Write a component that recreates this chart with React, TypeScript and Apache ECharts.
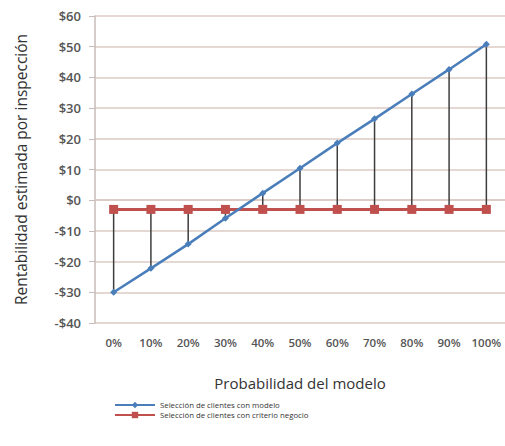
import React, { useEffect, useRef } from "react";
import * as echarts from "echarts";

const categories = ["0%", "10%", "20%", "30%", "40%", "50%", "60%", "70%", "80%", "90%", "100%"];
const modelValues = [-30, -22.2, -14.3, -5.9, 2.3, 10.4, 18.6, 26.5, 34.6, 42.6, 50.8];
const businessValues = [-3, -3, -3, -3, -3, -3, -3, -3, -3, -3, -3];
const yTicks = { min: -40, max: 60, interval: 10 };
const seriesNames = ["Selección de clientes con modelo", "Selección de clientes con criterio negocio"];
const yAxisTitle = "Rentabilidad estimada por inspección";
const xAxisTitle = "Probabilidad del modelo";

const FONT = "'Open Sans', 'Liberation Sans', sans-serif";

export default function App() {
  const ref = useRef<HTMLDivElement>(null);
  useEffect(() => {
    if (!ref.current) return;
    const chart = echarts.init(ref.current, null, { renderer: "svg" });
    const stemData = categories.map((_, i) => [i, businessValues[i], modelValues[i]]);
    chart.setOption({
      animation: false,
      backgroundColor: "#ffffff",
      textStyle: { fontFamily: FONT },
      grid: { left: 95, right: 0, top: 16, bottom: 123, containLabel: false },
      legend: {
        orient: "vertical",
        left: 109,
        top: 396,
        itemWidth: 40,
        itemHeight: 8,
        itemGap: 2,
        data: seriesNames,
        textStyle: { fontSize: 7.8, color: "#333", fontFamily: FONT },
      },
      xAxis: {
        type: "category",
        data: categories,
        boundaryGap: true,
        name: xAxisTitle,
        nameLocation: "middle",
        nameGap: 52,
        nameTextStyle: { fontSize: 15, color: "#333", fontFamily: FONT },
        axisLine: { lineStyle: { color: "#d8c8c2", width: 1.5 } },
        axisTick: { show: false },
        axisLabel: {
          interval: 0,
          hideOverlap: false,
          fontSize: 11.5,
          color: "#555",
          fontWeight: 600,
          margin: 13,
          fontFamily: FONT,
        },
      },
      yAxis: {
        type: "value",
        min: yTicks.min,
        max: yTicks.max,
        interval: yTicks.interval,
        name: yAxisTitle,
        nameLocation: "middle",
        nameGap: 66,
        nameTextStyle: { fontSize: 15.5, color: "#333", fontFamily: FONT },
        axisLine: { show: true, lineStyle: { color: "#c8bcb8", width: 1.5 } },
        axisTick: { show: true, length: 6, lineStyle: { color: "#c8bcb8" } },
        splitLine: { lineStyle: { color: "#dccbc5", width: 1.5 } },
        axisLabel: {
          fontSize: 13,
          color: "#555",
          fontWeight: 600,
          margin: 14,
          fontFamily: FONT,
          formatter: (v: number) => (v < 0 ? "-$" + Math.abs(v) : "$" + v),
        },
      },
      series: [
        {
          type: "custom",
          name: "stems",
          z: 1,
          data: stemData,
          renderItem: (params: any, api: any) => {
            const p1 = api.coord([api.value(0), api.value(1)]);
            const p2 = api.coord([api.value(0), api.value(2)]);
            return {
              type: "line",
              shape: { x1: p1[0], y1: p1[1], x2: p2[0], y2: p2[1] },
              style: { stroke: "#3d3d3d", lineWidth: 1.5 },
            };
          },
          silent: true,
        },
        {
          type: "line",
          name: seriesNames[1],
          data: businessValues,
          z: 3,
          symbol: "rect",
          symbolSize: 9,
          itemStyle: { color: "#c0504d" },
          lineStyle: { color: "#c0504d", width: 3 },
        },
        {
          type: "line",
          name: seriesNames[0],
          data: modelValues,
          z: 4,
          symbol: "diamond",
          symbolSize: 7,
          itemStyle: { color: "#4a7ebb" },
          lineStyle: { color: "#4a7ebb", width: 2.5 },
        },
      ],
    });
    return () => chart.dispose();
  }, []);
  return <div ref={ref} style={{ position: "fixed", left: 0, top: 0, width: 505, height: 446 }} />;
}
